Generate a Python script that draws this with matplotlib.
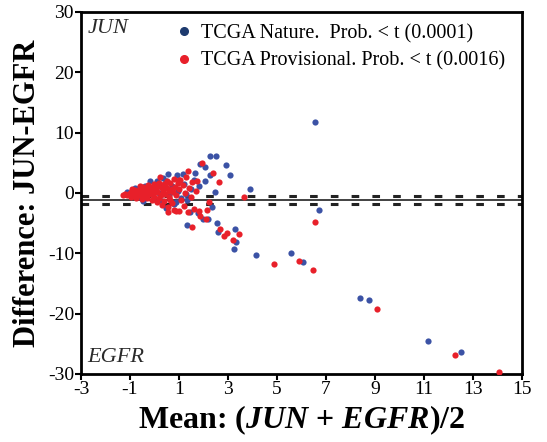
import matplotlib
matplotlib.use('Agg')
import matplotlib.pyplot as plt
from matplotlib.lines import Line2D

plt.rcParams['font.family'] = 'Liberation Serif'
plt.rcParams['axes.unicode_minus'] = False
plt.rcParams['mathtext.fontset'] = 'custom'
plt.rcParams['mathtext.rm'] = 'Liberation Serif:bold'
plt.rcParams['mathtext.it'] = 'Liberation Serif:bold:italic'
plt.rcParams['mathtext.bf'] = 'Liberation Serif:bold'

# TCGA Nature (blue)
nature_x = [-1.1, -0.9, -0.7, -0.6, -0.4, -0.3, -0.2, -0.1, 0.0, 0.1, 0.2, 0.3, 0.35, 0.47,
            0.47, 0.57, 0.6, 0.7, 0.8, 0.91, 0.95, 1.1, 1.18, 1.2, 1.3, 1.32, 1.46, 1.62, 1.66,
            1.76, 1.8, 1.84, 2.0, 2.08, 2.08, 2.2, 2.25, 2.28, 2.35, 2.48, 2.52, 2.93, 3.07,
            1.32, 2.55, 2.58, 3.27, 3.34, 3.23, 3.91, 4.15, 5.58, 6.08, 6.57, 6.71, 8.41, 8.78,
            11.18, 12.53, -0.8, 0.05, 0.9, 1.5, -0.45, 0.25]
nature_y = [0.2, -0.3, 0.6, -0.7, 1.2, -0.3, 1.9, 0.4, -1.0, 1.9, 0.0, -1.4, 2.5, 1.9,
            -2.5, 3.1, -0.2, 1.2, -1.8, 3.0, 0.3, -0.8, 3.1, 1.5, -0.2, -1.2, -3.1, 2.2, 3.3,
            -3.4, 1.2, 4.8, -4.3, 4.3, 1.9, -4.4, 3.0, 6.1, -2.4, 0.1, 6.1, 4.6, 3.0,
            -5.3, -5.0, -6.4, -6.0, -8.1, -9.3, 0.7, -10.3, -9.9, -11.4, 11.7, -2.9, -17.4, -17.7,
            -24.5, -26.3, 0.9, 0.8, -1.5, 0.6, -1.3, 1.1]

# TCGA Provisional (red)
prov_x = [-1.3, -1.2, -1.1, -1.0, -0.95, -0.9, -0.85, -0.8, -0.75, -0.7, -0.65, -0.6, -0.55,
          -0.5, -0.5, -0.45, -0.4, -0.35, -0.3, -0.3, -0.25, -0.2, -0.15, -0.1, -0.1, -0.05,
          0.0, 0.0, 0.05, 0.1, 0.1, 0.15, 0.2, 0.2, 0.25, 0.3, 0.3, 0.35, 0.4, 0.4, 0.45, 0.5,
          0.5, 0.55, 0.6, 0.6, 0.65, 0.7, 0.75, 0.8, 0.8, 0.85, 0.9, 0.95, 1.0, 1.0, 1.05, 1.1,
          1.15, 1.2, 1.25, 1.3, 1.35, 1.4, 1.5, 1.55, 1.6, 1.7, 1.75, 1.8,
          0.23, 1.02, 1.35, 1.94, 2.41, 2.63, 2.21, 2.14, 1.84, 2.1, 0.89, 0.57, 1.53, 2.69,
          2.96, 2.85, 3.47, 3.19, 3.64, 4.9, 5.89, 6.46, 6.54, 9.1, 12.26, 14.05,
          -0.6, -0.2, 0.15, 0.45, 0.7, -0.9, -0.35, 0.05, 0.35, 0.65]
prov_y = [-0.3, -0.1, -0.4, 0.0, -0.6, 0.3, -0.2, 0.5, -0.8, 0.1, -0.4, 0.7, -0.1,
          0.4, -1.0, 1.0, -0.5, 0.2, 0.8, -0.9, 1.3, -0.2, 0.5, -1.2, 1.0, 0.0,
          1.5, -0.6, 0.6, -1.5, 0.2, 1.1, -0.9, 1.7, -0.3, 0.8, -2.0, 0.3, 1.4, -1.3, -0.1, 2.0,
          0.9, -2.4, 0.4, -0.7, 1.6, -1.7, 0.1, 2.3, -2.8, 1.0, -0.4, 1.7, -3.0, 0.6, 2.2, -1.1,
          1.3, -2.2, 0.0, 2.7, -3.2, 0.9, -0.6, 1.8, -2.6, 0.3, 2.0, -3.0,
          2.6, 2.2, 3.7, 4.9, 3.3, 1.8, -1.5, -2.9, -3.9, -4.4, -3.0, -3.1, -5.7, -5.9,
          -6.7, -7.2, -6.8, -7.8, -0.7, -11.8, -11.2, -12.8, -4.9, -19.2, -26.8, -29.6,
          1.1, 0.9, 1.4, 1.2, 0.6, 0.6, 0.3, 0.3, 0.0, -1.2]

bias = -1.15
limits = [-0.45, -1.85]

fig = plt.figure(figsize=(5.47, 4.42), dpi=100)
ax = fig.add_axes([0.148, 0.154, 0.806, 0.819])

ax.axhline(bias, color='#333333', lw=1.3, zorder=1)
for y in limits:
    ax.axhline(y, color='#222222', lw=2.2, dashes=(2.5, 4.3), zorder=1)

ax.scatter(nature_x, nature_y, s=20, color='#3b52a5', linewidths=0, zorder=3)
ax.scatter(prov_x, prov_y, s=20, color='#e8202a', linewidths=0, zorder=3)

ax.set_xlim(-3, 15)
ax.set_ylim(-30, 30)
ax.set_xticks(range(-3, 16, 2))
ax.set_yticks(range(-30, 31, 10))
ax.tick_params(direction='out', length=4, width=1.5, labelsize=14, pad=1)
for sp in ax.spines.values():
    sp.set_linewidth(2)

ax.set_xlabel(r'Mean: ($\mathit{JUN}$ + $\mathit{EGFR}$)/2',
              fontsize=23, fontweight='bold', labelpad=4)
ax.set_ylabel('Difference: JUN-EGFR', fontsize=22, fontweight='bold', labelpad=4)

ax.text(0.015, 0.98, 'JUN', transform=ax.transAxes, fontsize=16, fontstyle='italic',
        va='top', ha='left', color='#2a2a2a')
ax.text(0.015, 0.02, 'EGFR', transform=ax.transAxes, fontsize=16, fontstyle='italic',
        va='bottom', ha='left', color='#2a2a2a')

handles = [Line2D([], [], ls='none', marker='o', ms=5.5, color='#1d3a6e'),
           Line2D([], [], ls='none', marker='o', ms=5.5, color='#e8202a')]
ax.legend(handles, ['TCGA Nature.  Prob. < t (0.0001)',
                    'TCGA Provisional. Prob. < t (0.0016)'],
          loc='upper left', bbox_to_anchor=(0.18, 1.0), frameon=False, fontsize=14.5,
          handletextpad=0.2, handlelength=1.2, labelspacing=0.4, borderaxespad=0.2)

fig.savefig('out.png', dpi=100)
